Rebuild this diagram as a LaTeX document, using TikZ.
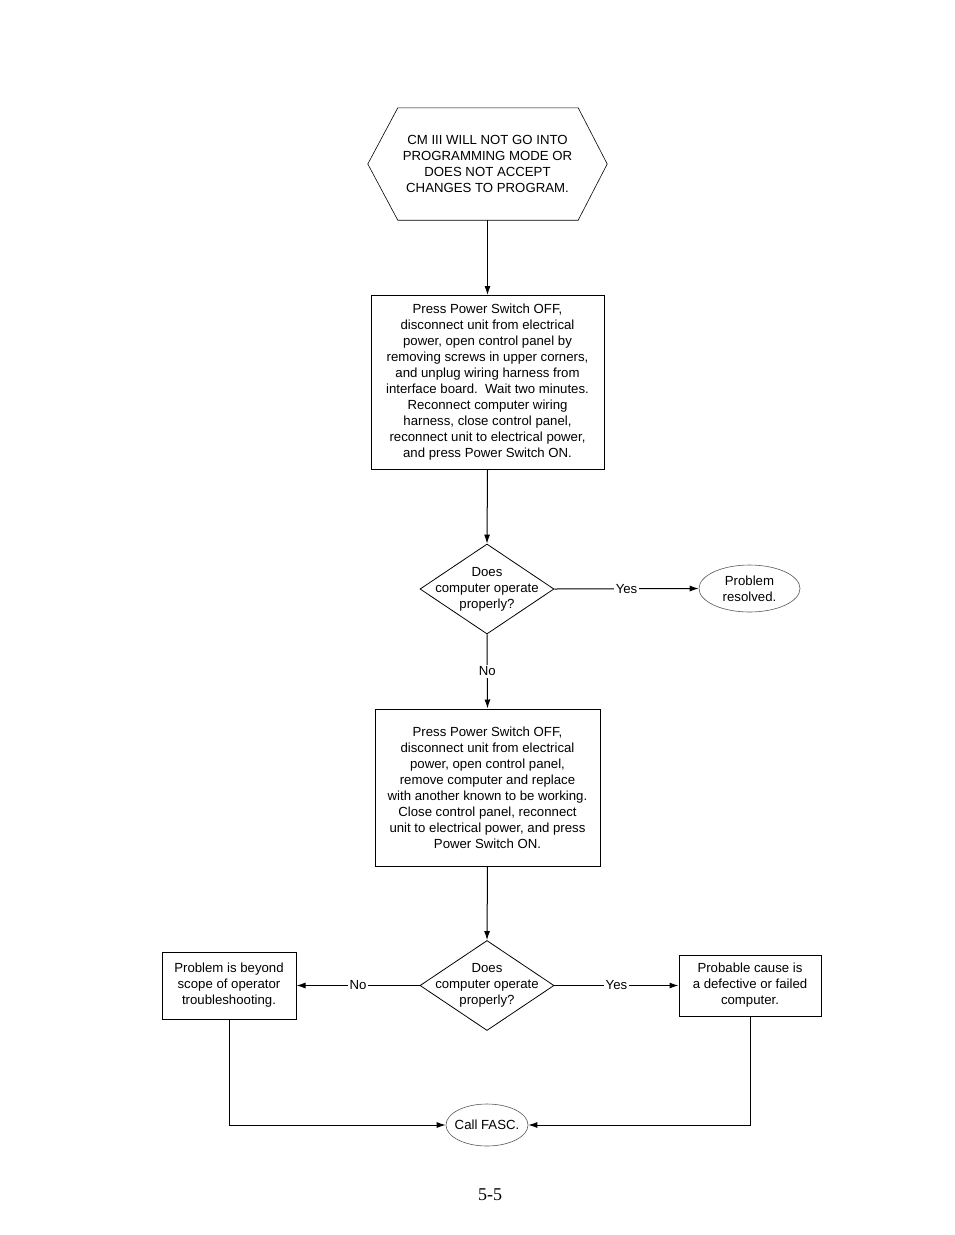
\documentclass[tikz,border=0pt]{standalone}
\usepackage{fontspec}
\setmainfont{Liberation Sans}
\newfontfamily\pagefont{Liberation Serif}
\usetikzlibrary{shapes.geometric,arrows.meta}
\begin{document}
\begin{tikzpicture}[x=1pt,y=-1pt,
  every node/.style={font=\fontsize{13.2}{16}\selectfont, align=center, inner sep=0pt},
  stepbox/.style={draw, line width=1pt, rectangle},
  decision/.style={draw, line width=0.8pt, diamond, minimum width=134pt, minimum height=90pt},
  terminal/.style={draw=black!65, line width=0.6pt, ellipse},
  conn/.style={line width=1pt, -{Latex[length=9pt,width=6pt]}},
  lbl/.style={fill=white, inner sep=2pt}]
\useasboundingbox (0,0) rectangle (954,1235);
\fill[white] (0,0) rectangle (954,1235);

% start hexagon
\node[minimum width=239pt, minimum height=112pt] (start) at (487.5,164)
  {CM III WILL NOT GO INTO\\PROGRAMMING MODE OR\\DOES NOT ACCEPT\\CHANGES TO PROGRAM.};
\draw[line width=0.6pt] (start.west) -- ([xshift=30pt]start.north west) -- ([xshift=-29pt]start.north east)
  -- (start.east) -- ([xshift=-29pt]start.south east) -- ([xshift=30pt]start.south west) -- cycle;

\node[stepbox, minimum width=233pt, minimum height=174pt] (b1) at (487.5,382.5)
  {Press Power Switch OFF,\\disconnect unit from electrical\\power, open control panel by\\removing screws in upper corners,\\and unplug wiring harness from\\interface board.\ \ Wait two minutes.\\Reconnect computer wiring\\harness, close control panel,\\reconnect unit to electrical power,\\and press Power Switch ON.};

\node[decision] (d1) at (487,589) {};
\node at (d1) {Does\\computer operate\\properly?};

\node[terminal, minimum width=101pt, minimum height=47pt] (e1) at (749.5,588.5) {Problem\\resolved.};

\node[stepbox, minimum width=225pt, minimum height=157pt] (b2) at (487.5,787.5)
  {Press Power Switch OFF,\\disconnect unit from electrical\\power, open control panel,\\remove computer and replace\\with another known to be working.\\Close control panel, reconnect\\unit to electrical power, and press\\Power Switch ON.};

\node[decision] (d2) at (487,985.5) {};
\node at (d2) {Does\\computer operate\\properly?};

\node[stepbox, minimum width=134pt, minimum height=67pt] (bl) at (229,985.5)
  {Problem is beyond\\scope of operator\\troubleshooting.};
\node[stepbox, minimum width=142pt, minimum height=61pt] (br) at (750,985.5)
  {Probable cause is\\a defective or failed\\computer.};

\node[terminal, inner xsep=-4pt, minimum width=82pt, minimum height=42pt] (e2) at (487,1125) {Call FASC.};

\node[font=\pagefont\fontsize{18}{20}\selectfont] (pg) at (490,1195) {5-5};

% connectors
\draw[conn] (start.south) -- (b1.north);
\draw[conn] (b1.south) -- (d1.north);
\draw[conn] (d1.east) -- node[lbl] {Yes} (e1.west);
\draw[conn] (d1.south) -- node[lbl] {No} (b2.north);
\draw[conn] (b2.south) -- (d2.north);
\draw[conn] (d2.west) -- node[lbl] {No} (bl.east);
\draw[conn] (d2.east) -- node[lbl] {Yes} (br.west);
\draw[conn] (bl.south) |- (e2.west);
\draw[conn] (br.south) |- (e2.east);
\end{tikzpicture}
\end{document}
